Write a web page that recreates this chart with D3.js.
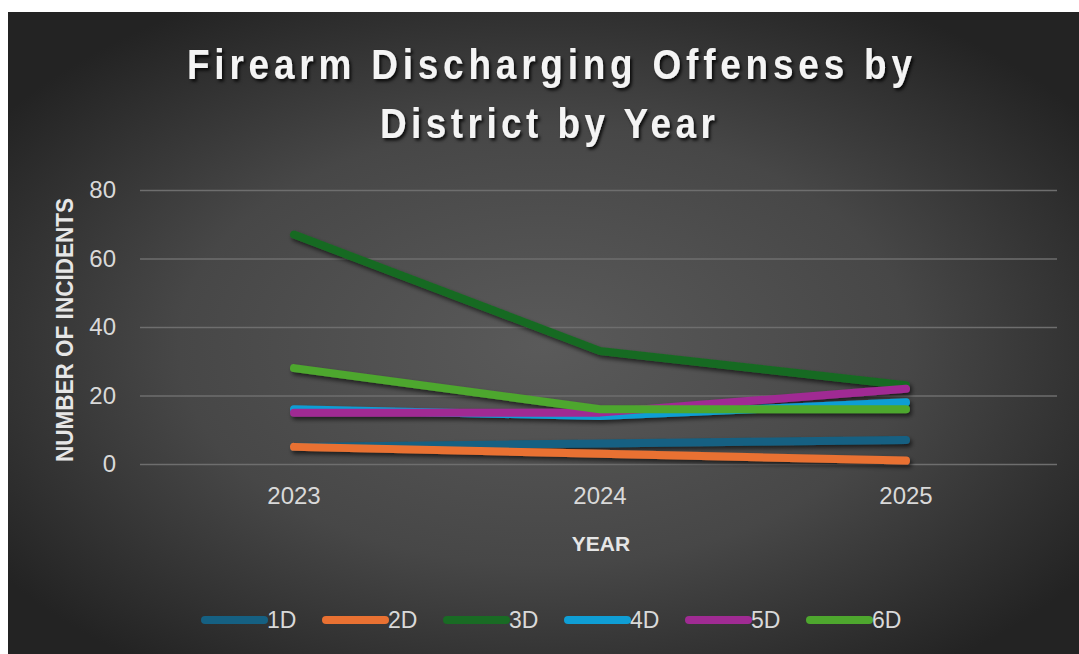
<!DOCTYPE html>
<html>
<head>
<meta charset="utf-8">
<script src="https://cdn.jsdelivr.net/npm/d3@7"></script>
<style>
  html, body { margin: 0; padding: 0; background: #ffffff; }
  svg { display: block; }
</style>
</head>
<body>
<svg id="chart"></svg>
<script>
//Firearm discharging offenses by district by year

const years = ["2023", "2024", "2025"];
const districts = ["1D", "2D", "3D", "4D", "5D", "6D"];
const d1 = [5, 6, 7];
const d2 = [5, 3, 1];
const d3v = [67, 33, 23];
const d4 = [16, 14, 18];
const d5 = [15, 15, 22];
const d6 = [28, 16, 16];
const yTicks = [0, 20, 40, 60, 80];
const colors = ["#156082", "#e97132", "#196b24", "#0f9ed5", "#a02b93", "#4ea72e"];

const series = districts.map((name, i) => ({
    name: name,
    color: colors[i],
    values: [d1, d2, d3v, d4, d5, d6][i]
}));

const W = 1079, H = 654;
const svg = d3.select("#chart")
    .attr("width", W)
    .attr("height", H);

const defs = svg.append("defs");

//radial background, lighter in the middle
const grad = defs.append("radialGradient")
    .attr("id", "bg")
    .attr("cx", "50%").attr("cy", "52%")
    .attr("r", "62%");
grad.append("stop").attr("offset", "0%").attr("stop-color", "#5a5a5a");
grad.append("stop").attr("offset", "55%").attr("stop-color", "#474747");
grad.append("stop").attr("offset", "100%").attr("stop-color", "#232323");

//shadow for the lines and the title
const sh = defs.append("filter")
    .attr("id", "shadow")
    .attr("x", "-10%").attr("y", "-30%")
    .attr("width", "120%").attr("height", "160%");
sh.append("feDropShadow")
    .attr("dx", 2).attr("dy", 3)
    .attr("stdDeviation", 2)
    .attr("flood-color", "#000")
    .attr("flood-opacity", 0.6);

const tsh = defs.append("filter")
    .attr("id", "tshadow")
    .attr("x", "-5%").attr("y", "-30%")
    .attr("width", "110%").attr("height", "160%");
tsh.append("feDropShadow")
    .attr("dx", 2).attr("dy", 2.5)
    .attr("stdDeviation", 1.5)
    .attr("flood-color", "#000")
    .attr("flood-opacity", 0.8);

svg.append("rect")
    .attr("x", 8)
    .attr("y", 12)
    .attr("width", W - 8)
    .attr("height", H - 12)
    .attr("fill", "url(#bg)");

//title, squeezed sideways to look like a narrow face
const squeeze = 0.86;
const title = svg.append("g")
    .attr("filter", "url(#tshadow)")
    .attr("font-family", "'Liberation Sans', Arial, sans-serif")
    .attr("font-weight", "bold")
    .attr("font-size", "43px")
    .style("font-variant-ligatures", "none")
    .attr("fill", "#f4f4f4");
title.append("text")
    .attr("transform", "translate(187, 79) scale(" + squeeze + ", 1)")
    .attr("textLength", 725 / squeeze)
    .attr("lengthAdjust", "spacing")
    .text("Firearm Discharging Offenses by");
title.append("text")
    .attr("transform", "translate(380, 138) scale(" + squeeze + ", 1)")
    .attr("textLength", 335 / squeeze)
    .attr("lengthAdjust", "spacing")
    .text("District by Year");

//scales
const xScale = d3.scaleBand()
    .domain(years)
    .range([141, 1059]);

const yScale = d3.scaleLinear()
    .domain([0, 80])
    .range([464, 190]);

const xPos = yr => xScale(yr) + xScale.bandwidth() / 2;

//gridlines
svg.append("g")
    .attr("class", "grid")
    .attr("transform", "translate(140, 0)")
    .call(d3.axisLeft(yScale).tickValues(yTicks).tickSize(-917).tickFormat(""))
    .call(g => g.select(".domain").remove())
    .call(g => g.selectAll("line").attr("stroke", "#6e6e6e").attr("stroke-width", 1.5));

//y axis labels
svg.append("g")
    .attr("class", "yAxis")
    .attr("transform", "translate(116, 0)")
    .call(d3.axisLeft(yScale).tickValues(yTicks).tickSize(0).tickPadding(0))
    .call(g => g.select(".domain").remove())
    .call(g => g.selectAll("text")
        .attr("fill", "#d9d9d9")
        .attr("font-family", "'Liberation Sans', Arial, sans-serif")
        .attr("font-size", "24px"));

//x axis labels
svg.append("g")
    .attr("class", "xAxis")
    .attr("transform", "translate(0, 481)")
    .call(d3.axisBottom(xScale).tickSize(0).tickPadding(0))
    .call(g => g.select(".domain").remove())
    .call(g => g.selectAll("text")
        .attr("fill", "#d9d9d9")
        .attr("font-family", "'Liberation Sans', Arial, sans-serif")
        .attr("font-size", "24px")
        .attr("dy", "0.95em"));

//axis titles
svg.append("text")
    .attr("transform", "translate(73, 330) rotate(-90)")
    .attr("text-anchor", "middle")
    .attr("textLength", 264)
    .attr("lengthAdjust", "spacingAndGlyphs")
    .attr("font-family", "'Liberation Sans', Arial, sans-serif")
    .attr("font-weight", "bold")
    .attr("font-size", "23px")
    .attr("fill", "#e6e6e6")
    .text("NUMBER OF INCIDENTS");

svg.append("text")
    .attr("x", 601)
    .attr("y", 551)
    .attr("text-anchor", "middle")
    .attr("font-family", "'Liberation Sans', Arial, sans-serif")
    .attr("font-weight", "bold")
    .attr("font-size", "21px")
    .attr("fill", "#e6e6e6")
    .text("YEAR");

//the lines
const lineFun = d3.line()
    .x((d, i) => xPos(years[i]))
    .y(d => yScale(d));

svg.append("g")
    .attr("filter", "url(#shadow)")
    .selectAll("path")
    .data(series)
    .enter()
    .append("path")
    .attr("d", d => lineFun(d.values))
    .attr("fill", "none")
    .attr("stroke", d => d.color)
    .attr("stroke-width", 8)
    .attr("stroke-linecap", "round")
    .attr("stroke-linejoin", "round");

//legend
const legX = d3.scalePoint()
    .domain(districts)
    .range([202, 807]);

const leg = svg.append("g")
    .selectAll("g")
    .data(series)
    .enter()
    .append("g")
    .attr("transform", d => "translate(" + legX(d.name) + ", 620)");
leg.append("line")
    .attr("x1", 3)
    .attr("x2", 62)
    .attr("stroke", d => d.color)
    .attr("stroke-width", 8)
    .attr("stroke-linecap", "round");
leg.append("text")
    .attr("x", 65)
    .attr("y", 8)
    .attr("font-family", "'Liberation Sans', Arial, sans-serif")
    .attr("font-size", "23px")
    .attr("fill", "#d9d9d9")
    .text(d => d.name);
</script>
</body>
</html>
